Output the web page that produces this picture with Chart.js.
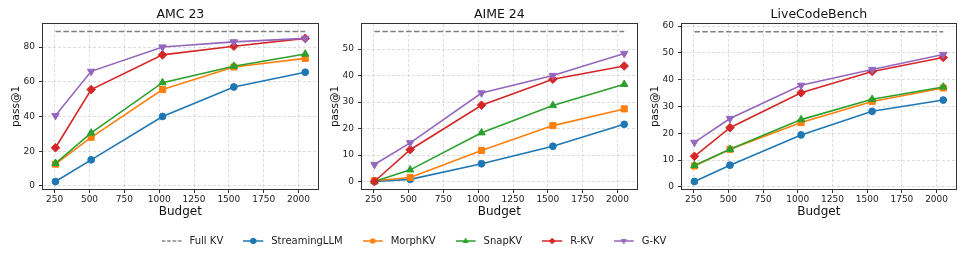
<!DOCTYPE html>
<html>
<head>
<meta charset="utf-8">
<script src="https://cdn.jsdelivr.net/npm/chart.js@4.4.1/dist/chart.umd.min.js"></script>
<style>
  html,body{margin:0;padding:0;background:#fff;}
  #wrap{position:relative;width:967px;height:258px;overflow:hidden;background:#fff;}
  canvas{position:absolute;}
</style>
</head>
<body>
<div id="wrap">
  <canvas id="c0"></canvas>
  <canvas id="c1"></canvas>
  <canvas id="c2"></canvas>
  <canvas id="leg"></canvas>
</div>
<script>
// ---- data ----
const budgets = [256, 512, 1024, 1536, 2048];
const methodNames = ['StreamingLLM', 'MorphKV', 'SnapKV', 'R-KV', 'G-KV'];
const panelTitles = ['AMC 23', 'AIME 24', 'LiveCodeBench'];
const fullKV = [89, 56.6, 57.9];

const amcStreamingLLM = [2.5, 15, 40, 57, 65.5];
const amcMorphKV      = [12.5, 28, 55.5, 68.5, 73.5];
const amcSnapKV       = [13, 30.5, 59.5, 69, 76];
const amcRKV          = [22, 55.5, 75.5, 80.5, 85];
const amcGKV          = [40.5, 66, 80, 83, 85];

const aimeStreamingLLM = [0, 0.8, 6.7, 13.3, 21.6];
const aimeMorphKV      = [0.3, 1.5, 11.7, 21.1, 27.4];
const aimeSnapKV       = [0, 4.4, 18.4, 28.7, 36.7];
const aimeRKV          = [0, 12, 28.8, 38.6, 43.6];
const aimeGKV          = [6.4, 14.6, 33.4, 40, 48.3];

const lcbStreamingLLM = [2, 8.1, 19.4, 28.2, 32.4];
const lcbMorphKV      = [7.8, 14, 24, 31.9, 36.9];
const lcbSnapKV       = [8, 14, 25.1, 32.7, 37.3];
const lcbRKV          = [11.4, 22.1, 35.1, 43.1, 48.3];
const lcbGKV          = [16.6, 25.5, 37.9, 43.8, 49.4];

const xTicks = [250, 500, 750, 1000, 1250, 1500, 1750, 2000];
const amcYTicks = [0, 20, 40, 60, 80];
const aimeYTicks = [0, 10, 20, 30, 40, 50];
const lcbYTicks = [0, 10, 20, 30, 40, 50, 60];

// ---- axis ranges & styling ----
const series = [
  [amcStreamingLLM, amcMorphKV, amcSnapKV, amcRKV, amcGKV],
  [aimeStreamingLLM, aimeMorphKV, aimeSnapKV, aimeRKV, aimeGKV],
  [lcbStreamingLLM, lcbMorphKV, lcbSnapKV, lcbRKV, lcbGKV]
];
const yTicks = [amcYTicks, aimeYTicks, lcbYTicks];
const yRange = [[-1.8, 93.3], [-2.83, 59.45], [-0.8, 60.8]];
const xRange = [166.4, 2137.6];
const plotX = [[43, 319], [362, 638], [682, 957]];

const colors = ['#1f77b4', '#ff7f0e', '#2ca02c', '#d62728', '#9467bd'];
const markers = ['circle', 'rect', 'triangle', 'rectRot', 'triangle'];
const markerRot = [0, 0, 0, 0, 180];
const markerR = [3.4, 4.3, 4.3, 4.3, 4.3];
const gridColor = 'rgba(176,176,176,0.55)';
const ink = '#222';

Chart.defaults.font.family = "'DejaVu Sans', sans-serif";
Chart.defaults.color = ink;

const frame = {
  id: 'frame',
  afterDatasetsDraw(c){
    const a = c.chartArea, g = c.ctx;
    g.save();
    g.strokeStyle = '#333'; g.lineWidth = 1;
    g.strokeRect(Math.round(a.left) - 0.5, Math.round(a.top) - 0.5,
                 Math.round(a.right - a.left) + 1, Math.round(a.bottom - a.top) + 1);
    g.restore();
  }
};

function panel(idx){
  const cv = document.getElementById('c' + idx);
  const [pl, pr] = plotX[idx];
  const left = pl - 43, w = pr - left + 4;
  cv.width = w; cv.height = 220;
  cv.style.left = left + 'px'; cv.style.top = '0px';

  const datasets = [{
    label: 'Full KV',
    data: [{x: budgets[0], y: fullKV[idx]}, {x: budgets[budgets.length - 1], y: fullKV[idx]}],
    borderColor: '#808080', borderDash: [5.5, 2.4], borderWidth: 1.5,
    pointRadius: 0, order: 10
  }];
  series[idx].forEach((vals, i) => {
    datasets.push({
      label: methodNames[i],
      data: budgets.map((b, j) => ({x: b, y: vals[j]})),
      borderColor: colors[i], backgroundColor: colors[i],
      borderWidth: 1.6,
      pointStyle: markers[i], pointRotation: markerRot[i], pointRadius: markerR[i],
      pointBorderWidth: 1, pointBorderColor: colors[i], pointBackgroundColor: colors[i],
      order: 5 - i
    });
  });

  new Chart(cv, {
    type: 'line',
    data: {datasets},
    plugins: [frame],
    options: {
      animation: false, responsive: false, devicePixelRatio: 1, events: [],
      layout: {padding: {left: 0, right: 4, top: 0, bottom: 0}},
      scales: {
        x: {
          type: 'linear', min: xRange[0], max: xRange[1],
          afterBuildTicks: s => { s.ticks = xTicks.map(v => ({value: v})); },
          afterFit: s => { s.height = 31; },
          ticks: {font: {size: 9}, color: ink, padding: 1.5, maxRotation: 0, autoSkip: false,
                  callback: v => String(v)},
          grid: {color: gridColor, lineWidth: 0.8, tickColor: '#333', tickLength: 4, tickWidth: 1, tickBorderDash: []},
          border: {display: false, dash: [3, 2]},
          title: {display: true, text: 'Budget', font: {size: 12}, color: '#111', padding: {top: 0, bottom: 0.8}}
        },
        y: {
          min: yRange[idx][0], max: yRange[idx][1],
          afterBuildTicks: s => { s.ticks = yTicks[idx].map(v => ({value: v})); },
          afterFit: s => { s.width = 43; },
          ticks: {font: {size: 9}, color: ink, padding: 4, callback: v => String(v)},
          grid: {color: gridColor, lineWidth: 0.8, tickColor: '#333', tickLength: 4, tickWidth: 1, tickBorderDash: []},
          border: {display: false, dash: [3, 2]},
          title: {display: true, text: 'pass@1', font: {size: 10.5}, color: '#111', padding: {top: 10, bottom: 0}}
        }
      },
      plugins: {
        legend: {display: false},
        tooltip: {enabled: false},
        title: {
          display: true, text: panelTitles[idx], fullSize: false,
          font: {size: 12.5, weight: 'normal'}, color: '#111',
          padding: {top: 7.5, bottom: 1.5}
        }
      }
    }
  });
}
[0, 1, 2].forEach(panel);

// ---- shared legend ----
function icon(color, dash, style, rot){
  const c = document.createElement('canvas');
  c.width = 23; c.height = 10;
  const g = c.getContext('2d');
  g.strokeStyle = color; g.lineWidth = 1.5;
  if (dash) g.setLineDash(dash);
  g.beginPath(); g.moveTo(0, 5); g.lineTo(20, 5); g.stroke();
  g.setLineDash([]);
  if (style){
    g.fillStyle = color; g.lineWidth = 1;
    if (Chart.helpers && Chart.helpers.drawPoint){
      Chart.helpers.drawPoint(g, {pointStyle: style, radius: 2.8, rotation: rot || 0, borderWidth: 1}, 10, 5);
    } else {
      g.beginPath(); g.arc(10, 5, 2.5, 0, Math.PI * 2); g.fill();
    }
  }
  return c;
}
const legendLabels = ['Full KV'].concat(methodNames);
const legendIcons = [icon('#808080', [3.5, 2], null, 0)]
  .concat(methodNames.map((n, i) => icon(colors[i], null, markers[i], markerRot[i])));

const lc = document.getElementById('leg');
lc.width = 828; lc.height = 110;
lc.style.left = '0px'; lc.style.top = '216px';
new Chart(lc, {
  type: 'line',
  data: {datasets: legendLabels.map(l => ({label: l, data: []}))},
  options: {
    animation: false, responsive: false, devicePixelRatio: 1, events: [],
    scales: {x: {display: false}, y: {display: false}},
    plugins: {
      tooltip: {enabled: false},
      legend: {
        display: true, position: 'top', maxHeight: 80,
        labels: {
          usePointStyle: true, pointStyleWidth: 23, boxHeight: 10, padding: 20,
          font: {size: 10}, color: ink,
          generateLabels: c => c.data.datasets.map((d, i) => ({
            text: d.label, pointStyle: legendIcons[i],
            fillStyle: 'rgba(0,0,0,0)', strokeStyle: 'rgba(0,0,0,0)', lineWidth: 0,
            hidden: false, datasetIndex: i, fontColor: ink
          }))
        }
      }
    }
  }
});
</script>
</body>
</html>
